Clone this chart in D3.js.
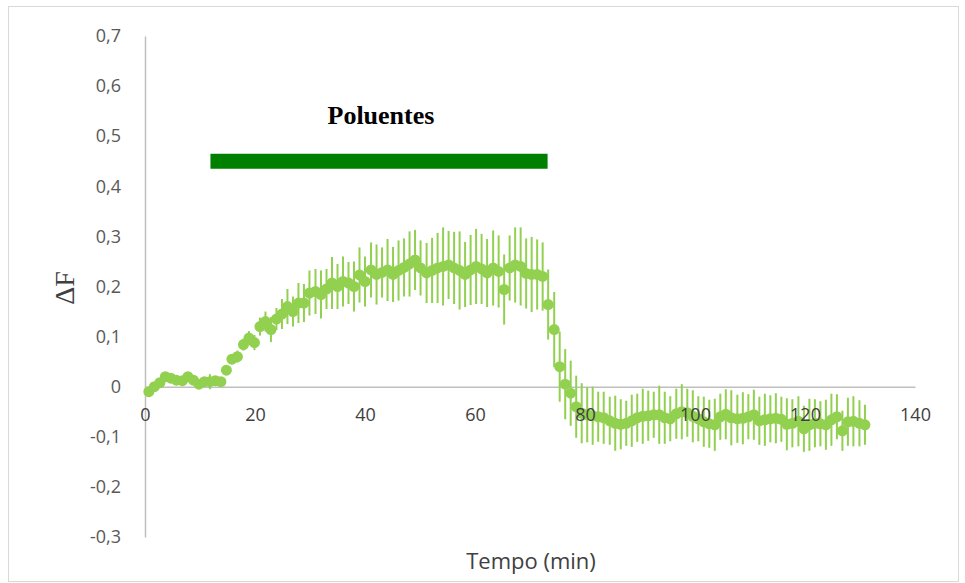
<!DOCTYPE html>
<html><head><meta charset="utf-8">
<script src="https://cdn.jsdelivr.net/npm/d3@7"></script>
<style>body{margin:0;background:#fff}</style>
</head><body>
<script>
const times = [0.7,1.7,2.7,3.7,4.7,5.7,6.8,7.8,8.8,9.8,10.8,11.8,12.8,13.8,14.8,15.8,16.8,17.9,18.9,19.9,
20.9,21.9,22.9,23.9,24.9,25.9,26.9,27.9,28.9,29.9,31.0,32.0,33.0,34.0,35.0,36.0,37.0,38.0,39.0,40.0,
41.1,42.1,43.1,44.1,45.1,46.1,47.1,48.1,49.1,50.1,51.2,52.2,53.2,54.2,55.2,56.2,57.2,58.2,59.2,60.2,
61.2,62.2,63.3,64.3,65.3,66.3,67.3,68.3,69.3,70.3,71.3,72.3,73.3,74.4,75.4,76.4,77.4,78.4,79.4,80.4,
81.4,82.4,83.4,84.5,85.5,86.5,87.5,88.5,89.5,90.5,91.5,92.5,93.5,94.5,95.5,96.6,97.6,98.6,99.6,100.6,
101.6,102.6,103.6,104.6,105.6,106.6,107.7,108.7,109.7,110.7,111.7,112.7,113.7,114.7,115.7,116.7,117.7,118.8,119.8,120.8,
121.8,122.8,123.8,124.8,125.8,126.8,127.8,128.8,129.9,130.9];
const deltaF = [-0.010,0.000,0.008,0.020,0.017,0.013,0.012,0.020,0.013,0.005,0.010,0.010,0.012,0.010,0.033,0.055,0.060,0.084,0.097,0.088,
0.120,0.130,0.114,0.135,0.145,0.160,0.150,0.167,0.167,0.187,0.190,0.184,0.195,0.207,0.200,0.210,0.207,0.200,0.223,0.210,
0.233,0.224,0.228,0.233,0.224,0.232,0.238,0.245,0.253,0.237,0.227,0.232,0.237,0.240,0.243,0.237,0.232,0.224,0.233,0.240,
0.235,0.227,0.237,0.230,0.194,0.237,0.243,0.240,0.226,0.224,0.224,0.220,0.164,0.114,0.040,0.005,-0.013,-0.040,-0.053,-0.056,
-0.058,-0.060,-0.062,-0.068,-0.073,-0.075,-0.073,-0.068,-0.062,-0.059,-0.058,-0.056,-0.056,-0.062,-0.064,-0.054,-0.050,-0.052,-0.059,-0.064,
-0.070,-0.074,-0.076,-0.060,-0.055,-0.062,-0.064,-0.063,-0.060,-0.056,-0.068,-0.066,-0.064,-0.063,-0.065,-0.075,-0.073,-0.069,-0.084,-0.076,
-0.073,-0.074,-0.076,-0.066,-0.060,-0.088,-0.070,-0.069,-0.073,-0.076];
const errors = [0.004,0.004,0.005,0.005,0.005,0.006,0.006,0.006,0.007,0.007,0.008,0.015,0.008,0.008,0.010,0.010,0.012,0.012,0.014,0.015,
0.018,0.020,0.025,0.022,0.030,0.035,0.030,0.040,0.038,0.045,0.045,0.048,0.040,0.052,0.045,0.050,0.042,0.050,0.055,0.050,
0.055,0.060,0.050,0.062,0.055,0.060,0.058,0.065,0.060,0.055,0.060,0.065,0.070,0.078,0.068,0.072,0.078,0.065,0.070,0.075,
0.070,0.068,0.075,0.072,0.070,0.065,0.075,0.078,0.070,0.075,0.070,0.068,0.070,0.075,0.070,0.070,0.065,0.062,0.060,0.055,
0.058,0.050,0.052,0.048,0.055,0.050,0.045,0.052,0.048,0.055,0.050,0.046,0.058,0.052,0.045,0.050,0.055,0.048,0.052,0.045,
0.050,0.048,0.052,0.046,0.050,0.055,0.048,0.052,0.045,0.050,0.048,0.052,0.047,0.050,0.045,0.052,0.048,0.050,0.046,0.052,
0.048,0.045,0.050,0.052,0.045,0.040,0.048,0.050,0.046,0.040];
const xTicks = [0,20,40,60,80,100,120,140];
const yTicks = [-0.3,-0.2,-0.1,0,0.1,0.2,0.3,0.4,0.5,0.6,0.7];
const pollutantLabel = "Poluentes";
const pollutantStart = 11.9, pollutantEnd = 73.2, pollutantLevel = 0.45;
const xTitle = "Tempo (min)", yTitle = "ΔF";

const W = 965, H = 583;
const svg = d3.select("body").append("svg").attr("width", W).attr("height", H);
svg.append("rect").attr("x", 8.5).attr("y", 6.5).attr("width", 950).attr("height", 575)
  .attr("fill", "#fff").attr("stroke", "#d9d9d9").attr("stroke-width", 1);

const x = d3.scaleLinear().domain([0, 140]).range([145, 915]);
const y = d3.scaleLinear().domain([-0.3, 0.7]).range([537, 36]);
const fmtY = v => Math.abs(v) < 1e-9 ? "0" : d3.format(".1f")(v).replace(".", ",").replace("\u2212", "-");
const green = "#92d050";
const axisColor = "#bfbfbf";
const tickFont = "'Open Sans', sans-serif";

const data = times.map((t, i) => ({t, v: deltaF[i], e: errors[i]}));

// y axis
const yAxis = svg.append("g").attr("transform", `translate(${x(0)},0)`)
  .call(d3.axisLeft(y).tickValues(yTicks).tickSize(0).tickPadding(24).tickFormat(fmtY));
yAxis.select(".domain").attr("stroke", axisColor).attr("stroke-width", 1.5);
yAxis.selectAll("text").attr("fill", "#595959").style("font-family", tickFont).style("font-size", "18px");

// x axis line (below data)
const xAxisLine = svg.append("g").attr("transform", `translate(0,${y(0)})`)
  .call(d3.axisBottom(x).tickValues(xTicks).tickSize(0).tickFormat(""));
xAxisLine.select(".domain").attr("stroke", axisColor).attr("stroke-width", 1.5);

// error bars
svg.append("g").selectAll("line").data(data).join("line")
  .attr("x1", d => x(d.t)).attr("x2", d => x(d.t))
  .attr("y1", d => y(d.v - d.e)).attr("y2", d => y(d.v + d.e))
  .attr("stroke", green).attr("stroke-width", 2);
// points
svg.append("g").selectAll("circle").data(data).join("circle")
  .attr("cx", d => x(d.t)).attr("cy", d => y(d.v)).attr("r", 5.5).attr("fill", green);

// x tick labels on top of data
const xAxis = svg.append("g").attr("transform", `translate(0,${y(0)})`)
  .call(d3.axisBottom(x).tickValues(xTicks).tickSize(0).tickPadding(22).tickFormat(d3.format("d")));
xAxis.select(".domain").remove();
xAxis.selectAll("text").attr("fill", "#404040").style("font-family", tickFont).style("font-size", "18px");

// pollutant bar
svg.append("line").attr("x1", x(pollutantStart)).attr("x2", x(pollutantEnd))
  .attr("y1", y(pollutantLevel)).attr("y2", y(pollutantLevel))
  .attr("stroke", "#008000").attr("stroke-width", 15);
svg.append("text").attr("x", x(42.9)).attr("y", 124).attr("text-anchor", "middle")
  .style("font-family", "'Liberation Serif', 'Times New Roman', serif").style("font-weight", "bold").style("font-size", "26px")
  .text(pollutantLabel);

// titles
svg.append("text").attr("x", 531).attr("y", 569).attr("text-anchor", "middle")
  .attr("fill", "#404040").style("font-family", tickFont).style("font-size", "22px").text(xTitle);
svg.append("text").attr("transform", "translate(74,288) rotate(-90)").attr("text-anchor", "middle")
  .attr("fill", "#404040").style("font-family", "'Liberation Serif', serif").style("font-size", "28px").text(yTitle);
</script>
</body></html>
